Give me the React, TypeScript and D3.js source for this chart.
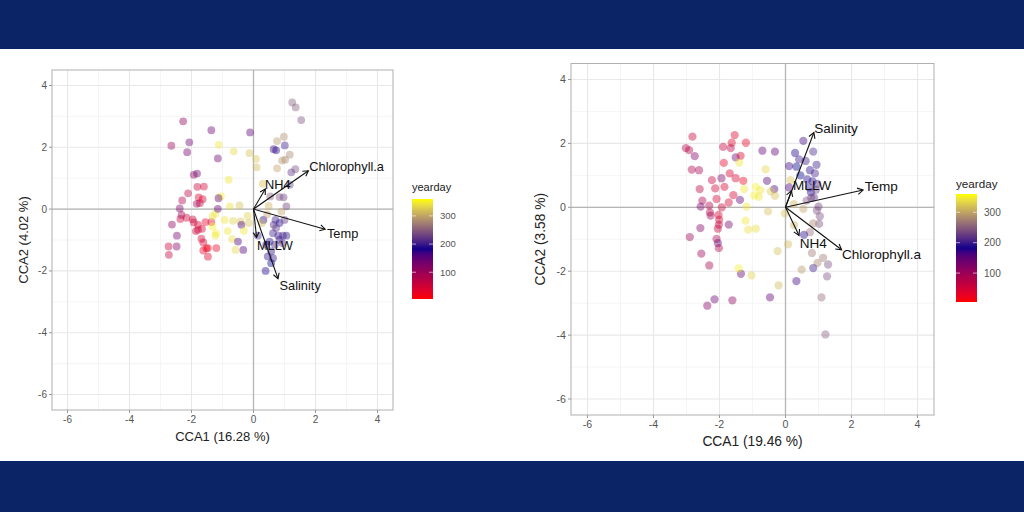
import React from "react";
import * as d3 from "d3";

// ---------- DATA ----------
// Left panel (CCA1 16.28 %, CCA2 4.02 %)
const leftX = [1.25,1.36,1.54,-1.36,-2.27,-0.11,-2.65,-2.07,-2.14,-1.12,-0.64,-0.13,0.08,0.10,-1.15,0.76,0.98,0.65,0.73,1.01,1.17,1.02,0.92,0.76,1.22,1.35,1.17,-1.93,-1.82,-0.80,-1.81,-1.60,-2.11,-1.05,-1.13,-2.30,-1.77,-1.64,-1.73,-1.83,-2.38,-2.32,-2.36,-2.63,-2.16,-1.96,-1.93,-1.79,-1.55,-1.36,-1.79,-1.66,-1.86,-2.47,-2.48,-2.74,-2.73,-1.68,-1.62,-1.47,-1.20,-1.62,-1.47,-1.52,-1.32,-1.23,-1.32,-1.21,-1.23,-0.83,-0.69,-0.93,-0.76,-0.45,-0.66,-0.42,-0.39,-0.15,-0.31,-0.50,-0.33,-0.58,-0.19,-1.15,0.30,0.49,0.54,0.84,1.06,0.90,0.32,0.71,0.65,0.84,0.73,0.63,0.80,0.95,1.06,0.84,0.52,0.41,0.69,0.93,0.57,0.46,0.63,0.57,0.39,0.14,0.27,0.44,0.97,1.00];
const leftY = [3.45,3.29,2.88,2.55,2.84,2.48,2.05,2.16,1.84,2.08,1.87,1.81,1.62,1.35,1.64,2.20,2.34,1.94,1.90,2.06,1.76,1.60,1.57,1.32,1.19,1.29,0.79,1.11,1.15,0.95,0.72,0.73,0.51,0.41,0.35,0.28,0.38,0.32,0.19,0.17,0.02,-0.19,-0.32,-0.50,-0.28,-0.33,-0.43,-0.51,-0.42,-0.42,-0.67,-0.64,-0.71,-0.86,-1.21,-1.21,-1.48,-0.96,-1.08,-1.26,-1.26,-1.34,-1.54,-1.27,-0.24,-0.15,-0.56,-0.78,-0.86,-0.71,-0.97,-0.35,0.09,0.12,-0.38,-0.40,-0.51,-0.45,-0.70,-1.05,-1.32,-1.32,-0.22,0.01,0.82,0.10,0.41,0.39,0.09,-0.08,-0.35,-0.35,-0.51,-0.45,-0.61,-0.78,-0.86,-0.86,-0.86,-0.99,-1.05,-1.15,-1.15,-1.10,-1.37,-1.53,-1.59,-1.75,-2.00,-0.86,-0.45,-0.17,0.38,-0.35];
const leftDay = [250,250,240,140,110,150,100,140,135,345,335,320,325,315,140,290,285,170,180,200,280,280,290,300,220,240,230,110,140,345,60,50,70,350,150,80,40,40,60,90,120,100,60,110,50,60,50,40,30,40,70,40,50,130,120,60,60,50,40,20,30,30,40,20,340,345,350,350,345,345,340,345,340,320,330,320,160,320,345,160,160,335,330,150,320,310,250,240,230,300,180,200,210,190,220,200,200,205,195,200,190,180,200,210,195,195,195,185,180,200,310,300,230,220];

const leftArrowName = ["Chlorophyll.a", "NH4", "Temp", "MLLW", "Salinity"];
const leftArrowX = [1.77, 0.38, 2.31, 0.10, 0.79];
const leftArrowY = [1.24, 0.65, -0.65, -0.92, -2.25];
const leftLabelX = [1.80, 0.37, 2.37, 0.11, 0.84];
const leftLabelY = [1.38, 0.78, -0.80, -1.19, -2.48];

// Right panel (CCA1 19.46 %, CCA2 3.58 %)
const rightX = [-2.82,-3.02,-2.92,-2.75,-2.84,-2.62,-1.54,-1.63,-1.20,-1.89,-1.66,-1.51,-1.36,-1.40,-1.87,-1.69,-1.51,-1.94,-2.23,-2.13,-1.85,-1.58,-2.09,-1.72,-1.93,-1.28,-1.25,-1.38,-1.18,-2.60,-2.52,-2.57,-2.31,-2.29,-2.27,-2.03,-2.01,-2.02,-2.05,-2.58,-2.90,-2.09,-2.05,-2.02,-1.72,-2.55,-2.31,-2.15,-2.37,-1.61,-1.35,-1.42,-1.03,-0.90,-0.76,-0.81,-0.95,-0.60,-0.56,-0.70,-0.32,-0.34,-0.45,-0.32,-0.53,-1.21,-1.13,-0.90,-0.02,0.08,-0.24,-0.21,-0.47,0.54,0.29,0.41,0.84,0.11,0.33,0.61,0.94,0.74,0.89,0.66,0.15,0.11,0.82,0.96,0.77,0.86,1.00,0.64,0.25,0.54,1.04,1.02,0.84,0.74,0.26,0.56,0.80,1.14,0.97,1.29,0.49,0.84,1.26,0.33,1.09,1.21,0.72,0.92,0.78,0.45,0.95];
const rightY = [2.21,1.85,1.79,1.60,1.18,1.16,2.26,2.02,2.02,1.89,1.85,1.56,1.61,1.40,1.39,1.06,0.91,0.91,0.85,0.59,0.64,0.38,0.26,0.15,0.00,0.83,0.57,0.23,0.02,0.57,0.21,0.02,0.05,-0.16,-0.26,-0.24,-0.39,-0.54,-0.67,-0.65,-0.93,-0.99,-1.12,-1.28,-0.54,-1.45,-1.82,-2.88,-3.08,-2.91,-2.08,-1.91,-2.13,0.64,0.54,0.33,0.37,1.19,0.83,1.77,1.74,0.57,0.50,0.36,-0.13,-0.42,-0.70,-0.67,-0.19,-1.16,-1.37,-2.44,-2.82,2.08,1.70,1.50,1.74,1.29,1.27,1.45,1.33,1.16,1.06,0.87,0.85,0.62,0.81,0.73,0.47,0.31,0.02,0.21,0.10,-0.05,-0.28,-0.52,-0.50,-0.78,-0.56,-0.86,-1.43,-1.58,-1.74,-1.79,-1.95,-1.90,-2.16,-2.31,-2.82,-3.98,0.62,0.55,0.30,1.00,-0.10];
const rightDay = [60,70,80,120,80,90,40,30,30,60,70,140,40,345,30,40,50,120,60,50,40,40,50,50,60,20,345,150,345,70,80,130,80,70,100,40,50,60,60,120,100,80,150,80,130,100,90,140,120,110,150,350,330,350,345,345,350,335,155,150,150,160,325,320,320,345,340,340,320,315,320,315,150,170,180,200,205,170,185,200,200,190,205,190,320,160,190,205,190,220,230,240,310,300,240,240,280,260,310,190,270,270,280,240,290,200,240,170,260,250,195,230,230,185,240];

const rightArrowName = ["Salinity", "MLLW", "Temp", "NH4", "Chlorophyll.a"];
const rightArrowX = [0.86, 0.18, 2.35, 0.41, 1.70];
const rightArrowY = [2.34, 0.52, 0.54, -0.88, -1.33];
const rightLabelX = [0.87, 0.23, 2.40, 0.43, 1.71];
const rightLabelY = [2.46, 0.70, 0.66, -1.12, -1.47];

const axisTicks = [-6, -4, -2, 0, 2, 4];
const minorTicks = [-5, -3, -1, 1, 3];
const legendTicks = [100, 200, 300];
const dayDomain = [5, 185, 360];
const dayColors = ["#ff0000", "#00008b", "#ffff00"];

const FONT = "'Liberation Sans', Arial, Helvetica, sans-serif";

const color = d3
  .scaleLinear<string>()
  .domain(dayDomain)
  .range(dayColors)
  .interpolate(d3.interpolateLab);

type PanelProps = {
  id: string;
  px: [number, number];
  py: [number, number];
  xs: number[];
  ys: number[];
  days: number[];
  arrowName: string[];
  arrowX: number[];
  arrowY: number[];
  labelX: number[];
  labelY: number[];
  xTitle: string;
  yTitle: string;
  yTitleX: number;
  xTitleY: number;
  legend: { x: number; y0: number; y1: number; w: number; titleY: number };
  scale: number;
};

function Panel(p: PanelProps) {
  const x = d3.scaleLinear().domain([-6.5, 4.5]).range(p.px);
  const y = d3.scaleLinear().domain([-6.5, 4.5]).range(p.py);
  const s = p.scale;
  const legY = d3.scaleLinear().domain([dayDomain[0], dayDomain[2]]).range([p.legend.y1, p.legend.y0]);
  const gradId = "grad-" + p.id;
  const arrowLen = 6 * s;
  const stops = d3.range(0, 1.0001, 0.05);
  const fmt = (t: number) => (t < 0 ? "-" + Math.abs(t) : String(t));
  return (
    <g>
      <defs>
        <linearGradient id={gradId} x1="0" y1="1" x2="0" y2="0">
          {stops.map((t, i) => (
            <stop key={i} offset={t} stopColor={color(dayDomain[0] + t * (dayDomain[2] - dayDomain[0]))} />
          ))}
        </linearGradient>
        <clipPath id={"clip-" + p.id}>
          <rect x={p.px[0]} y={p.py[1]} width={p.px[1] - p.px[0]} height={p.py[0] - p.py[1]} />
        </clipPath>
      </defs>
      <rect x={p.px[0]} y={p.py[1]} width={p.px[1] - p.px[0]} height={p.py[0] - p.py[1]} fill="#fff" />
      {minorTicks.map((t) => (
        <g key={"m" + t}>
          <line x1={x(t)} x2={x(t)} y1={p.py[0]} y2={p.py[1]} stroke="#f3f3f3" strokeWidth={0.8} />
          <line y1={y(t)} y2={y(t)} x1={p.px[0]} x2={p.px[1]} stroke="#f3f3f3" strokeWidth={0.8} />
        </g>
      ))}
      {axisTicks.map((t) => (
        <g key={"M" + t}>
          <line x1={x(t)} x2={x(t)} y1={p.py[0]} y2={p.py[1]} stroke="#e8e8e8" strokeWidth={1.1} />
          <line y1={y(t)} y2={y(t)} x1={p.px[0]} x2={p.px[1]} stroke="#e8e8e8" strokeWidth={1.1} />
        </g>
      ))}
      <line x1={x(0)} x2={x(0)} y1={p.py[0]} y2={p.py[1]} stroke="#b5b5b5" strokeWidth={1.3} />
      <line y1={y(0)} y2={y(0)} x1={p.px[0]} x2={p.px[1]} stroke="#b5b5b5" strokeWidth={1.3} />
      <g clipPath={`url(#clip-${p.id})`}>
        {p.xs.map((v, i) => (
          <circle key={i} cx={x(v)} cy={y(p.ys[i])} r={3.9 * s} fill={color(p.days[i])} fillOpacity={0.42} />
        ))}
      </g>
      {p.arrowName.map((n, i) => {
        const x0 = x(0), y0 = y(0);
        const x1 = x(p.arrowX[i]), y1 = y(p.arrowY[i]);
        const ang = Math.atan2(y1 - y0, x1 - x0);
        const a1 = ang + Math.PI - Math.PI / 6;
        const a2 = ang + Math.PI + Math.PI / 6;
        return (
          <g key={n}>
            <line x1={x0} y1={y0} x2={x1} y2={y1} stroke="#111" strokeWidth={1.1} />
            <polyline
              points={`${x1 + arrowLen * Math.cos(a1)},${y1 + arrowLen * Math.sin(a1)} ${x1},${y1} ${x1 + arrowLen * Math.cos(a2)},${y1 + arrowLen * Math.sin(a2)}`}
              fill="none"
              stroke="#111"
              strokeWidth={1.1}
            />
            <text x={x(p.labelX[i])} y={y(p.labelY[i])} dy="0.35em" fontSize={12.8 * s} fill="#111" fontFamily={FONT}>
              {n}
            </text>
          </g>
        );
      })}
      <rect x={p.px[0]} y={p.py[1]} width={p.px[1] - p.px[0]} height={p.py[0] - p.py[1]} fill="none" stroke="#b0b0b0" strokeWidth={1} />
      {axisTicks.map((t) => (
        <g key={"t" + t}>
          <line x1={x(t)} x2={x(t)} y1={p.py[0]} y2={p.py[0] + 3} stroke="#999" />
          <text x={x(t)} y={p.py[0] + 5} dy="0.75em" textAnchor="middle" fontSize={10 * s} fill="#555" fontFamily={FONT}>
            {fmt(t)}
          </text>
          <line y1={y(t)} y2={y(t)} x1={p.px[0]} x2={p.px[0] - 3} stroke="#999" />
          <text x={p.px[0] - 5} y={y(t)} dy="0.35em" textAnchor="end" fontSize={10 * s} fill="#555" fontFamily={FONT}>
            {fmt(t)}
          </text>
        </g>
      ))}
      <text x={(p.px[0] + p.px[1]) / 2} y={p.xTitleY} textAnchor="middle" fontSize={13 * s} fill="#222" fontFamily={FONT}>
        {p.xTitle}
      </text>
      <text
        transform={`translate(${p.yTitleX},${(p.py[0] + p.py[1]) / 2}) rotate(-90)`}
        textAnchor="middle"
        fontSize={13 * s}
        fill="#222"
        fontFamily={FONT}
      >
        {p.yTitle}
      </text>
      <text x={p.legend.x} y={p.legend.titleY} fontSize={11 * s} fill="#222" fontFamily={FONT}>
        yearday
      </text>
      <rect x={p.legend.x} y={p.legend.y0} width={p.legend.w} height={p.legend.y1 - p.legend.y0} fill={`url(#${gradId})`} />
      {legendTicks.map((t) => (
        <g key={"l" + t}>
          <line x1={p.legend.x} x2={p.legend.x + 4} y1={legY(t)} y2={legY(t)} stroke="#fff" strokeOpacity={0.6} />
          <line x1={p.legend.x + p.legend.w - 4} x2={p.legend.x + p.legend.w} y1={legY(t)} y2={legY(t)} stroke="#fff" strokeOpacity={0.6} />
          <text x={p.legend.x + p.legend.w + 7} y={legY(t)} dy="0.35em" fontSize={9.5 * s} fill="#555" fontFamily={FONT}>
            {t}
          </text>
        </g>
      ))}
    </g>
  );
}

export default function App() {
  return (
    <svg width={1024} height={512} style={{ position: "absolute", left: 0, top: 0, display: "block" }}>
      <rect x={0} y={0} width={1024} height={512} fill="#fff" />
      <rect x={0} y={0} width={1024} height={49} fill="#0b2465" />
      <rect x={0} y={461} width={1024} height={51} fill="#0b2465" />
      <Panel
        id="L"
        px={[52, 393]}
        py={[410, 70]}
        xs={leftX}
        ys={leftY}
        days={leftDay}
        arrowName={leftArrowName}
        arrowX={leftArrowX}
        arrowY={leftArrowY}
        labelX={leftLabelX}
        labelY={leftLabelY}
        xTitle="CCA1 (16.28 %)"
        yTitle="CCA2 (4.02 %)"
        yTitleX={28}
        xTitleY={441}
        legend={{ x: 412, y0: 199, y1: 299, w: 21, titleY: 191 }}
        scale={1}
      />
      <Panel
        id="R"
        px={[571, 934]}
        py={[415, 63.5]}
        xs={rightX}
        ys={rightY}
        days={rightDay}
        arrowName={rightArrowName}
        arrowX={rightArrowX}
        arrowY={rightArrowY}
        labelX={rightLabelX}
        labelY={rightLabelY}
        xTitle="CCA1 (19.46 %)"
        yTitle="CCA2 (3.58 %)"
        yTitleX={545}
        xTitleY={446}
        legend={{ x: 956, y0: 194, y1: 302, w: 21, titleY: 188 }}
        scale={1.06}
      />
    </svg>
  );
}
